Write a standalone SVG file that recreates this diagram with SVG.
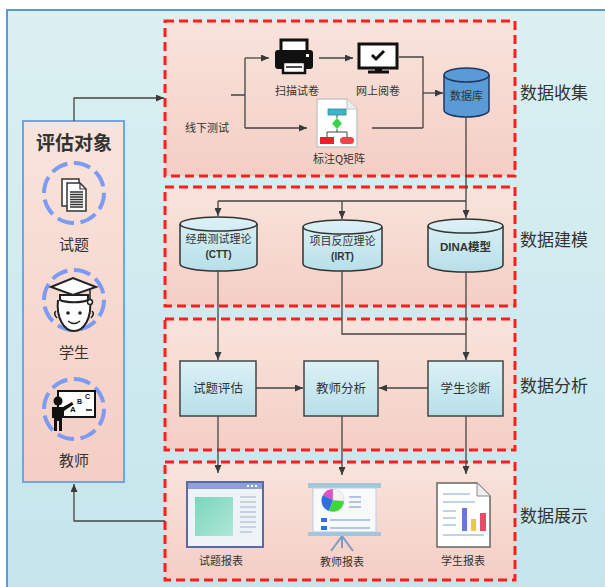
<svg xmlns="http://www.w3.org/2000/svg" width="605" height="587" viewBox="0 0 605 587">
  <defs>
    <linearGradient id="bgGrad" x1="0" y1="0" x2="0" y2="1">
      <stop offset="0" stop-color="#dbf0f2"/>
      <stop offset="1" stop-color="#c4e5ec"/>
    </linearGradient>
    <linearGradient id="pinkGrad" x1="0" y1="0" x2="0" y2="1">
      <stop offset="0" stop-color="#f8e4dc"/>
      <stop offset="1" stop-color="#f4cec4"/>
    </linearGradient>
    <linearGradient id="boxGrad" x1="0" y1="0" x2="0" y2="1">
      <stop offset="0" stop-color="#dcf1f6"/>
      <stop offset="1" stop-color="#b7dfe9"/>
    </linearGradient>
    <linearGradient id="greenGrad" x1="0" y1="0" x2="1" y2="1">
      <stop offset="0" stop-color="#79d6bd"/>
      <stop offset="1" stop-color="#b0e7d6"/>
    </linearGradient>
    <marker id="arrow" viewBox="0 0 8 7" markerWidth="8" markerHeight="7" refX="8" refY="3.5" orient="auto" markerUnits="userSpaceOnUse">
      <path d="M0,0 L8,3.5 L0,7 Z" fill="#3a3a3a"/>
    </marker>
    <style>
      .section { fill: url(#pinkGrad); stroke: #ff1e1e; stroke-width: 3; stroke-dasharray: 9 5; }
      .conn { fill: none; stroke: #444; stroke-width: 1.3; }
      .arr { marker-end: url(#arrow); }
      .cyl { fill: url(#boxGrad); stroke: #333; stroke-width: 1.5; }
      .box { fill: url(#boxGrad); stroke: #444; stroke-width: 1.5; }
      .ring { fill: none; stroke: #7d9bf5; stroke-width: 4; stroke-dasharray: 17 6.5; }
      .t { font-family: "Noto Sans CJK SC", "Liberation Sans", sans-serif; fill: #333; text-anchor: middle; }
      .small { font-size: 11px; }
      .mid { font-size: 12.5px; }
      .sec { font-size: 17px; text-anchor: start; }
      .bold { font-family: "Liberation Sans", "Noto Sans CJK SC", sans-serif; font-weight: bold; }
    </style>
  </defs>

  <!-- canvas and outer frame -->
  <rect x="0" y="0" width="605" height="587" fill="#ffffff"/>
  <rect x="7" y="10" width="610" height="590" fill="url(#bgGrad)" stroke="#5b9bd5" stroke-width="2"/>

  <!-- stage frames -->
  <g id="stage-collect">
    <rect class="section" x="165" y="21" width="350" height="155"/>
    <text class="t sec" x="520" y="99">数据收集</text>
  </g>
  <g id="stage-model">
    <rect class="section" x="165" y="187" width="350" height="119"/>
    <text class="t sec" x="520" y="246">数据建模</text>
  </g>
  <g id="stage-analyse">
    <rect class="section" x="165" y="319" width="350" height="131"/>
    <text class="t sec" x="520" y="392">数据分析</text>
  </g>
  <g id="stage-present">
    <rect class="section" x="165" y="462" width="350" height="118"/>
    <text class="t sec" x="520" y="522">数据展示</text>
  </g>

  <!-- evaluation subjects panel -->
  <g id="subjects">
    <rect x="23" y="121" width="101" height="361" fill="url(#pinkGrad)" stroke="#6aa6ea" stroke-width="2"/>
    <text class="t" x="74" y="150" font-size="19" font-weight="bold" fill="#222">评估对象</text>

    <!-- items: stacked papers -->
    <g id="subject-items">
      <circle class="ring" cx="74" cy="193" r="30"/>
      <rect x="62" y="179" width="17" height="27" fill="#fff" stroke="#333" stroke-width="1.5"/>
      <path d="M67,183 H80 L86,189 V211 H67 Z" fill="#fff" stroke="#333" stroke-width="1.5"/>
      <path d="M80,183 V189 H86" fill="none" stroke="#333" stroke-width="1.2"/>
      <path d="M70,192 H83 M70,194.5 H83 M70,197 H83 M70,199.5 H83 M70,202 H83 M70,204.5 H83 M70,207 H83" stroke="#333" stroke-width="1.3"/>
      <text class="t" x="74" y="250" font-size="15">试题</text>
    </g>

    <!-- students: graduate face -->
    <g id="subject-students">
      <circle class="ring" cx="74" cy="300" r="30"/>
      <path d="M58,300 C56,318 64,331 74,331 C84,331 92,318 90,300" fill="#fff" stroke="#222" stroke-width="2"/>
      <path d="M60,300 C66,303 82,303 88,300 L88,295 L60,295 Z" fill="#fff" stroke="#222" stroke-width="2"/>
      <path d="M51,287 L73,278 L96,287 L73,295 Z" fill="#fff" stroke="#222" stroke-width="2"/>
      <path d="M90,289 V300" stroke="#222" stroke-width="1.5"/>
      <circle cx="90" cy="302" r="2.5" fill="#fff" stroke="#222" stroke-width="1.5"/>
      <circle cx="68" cy="313" r="1.8" fill="#222"/>
      <circle cx="80" cy="313" r="1.8" fill="#222"/>
      <path d="M68,321 Q74,326 80,321" fill="none" stroke="#222" stroke-width="1.6"/>
      <path d="M56,311 Q53,314 57,318 M92,311 Q95,314 91,318" fill="none" stroke="#222" stroke-width="1.5"/>
      <text class="t" x="74" y="358" font-size="15">学生</text>
    </g>

    <!-- teachers: presenter at board -->
    <g id="subject-teachers">
      <circle class="ring" cx="74" cy="409" r="30"/>
      <rect x="58" y="391" width="37" height="26" fill="#fff" stroke="#111" stroke-width="2"/>
      <text x="70" y="412" font-family="Liberation Sans, sans-serif" font-size="8" font-weight="bold" fill="#111">A</text>
      <text x="77" y="404" font-family="Liberation Sans, sans-serif" font-size="7" font-weight="bold" fill="#111">B</text>
      <text x="85" y="399" font-family="Liberation Sans, sans-serif" font-size="7" font-weight="bold" fill="#111">C</text>
      <path d="M86,410 H92" stroke="#111" stroke-width="1.5"/>
      <circle cx="58" cy="401" r="4.5" fill="#111"/>
      <path d="M52,407 H63 L72,402 L73.5,404.5 L64,411 V418 H62 V431 H59 V421 H57 V431 H54 V418 H52 Z" fill="#111"/>
      <text class="t" x="74" y="466" font-size="15">教师</text>
    </g>
  </g>

  <!-- data collection nodes -->
  <g id="node-printer">
    <rect x="281" y="40" width="26" height="12" fill="#fff" stroke="#111" stroke-width="3"/>
    <rect x="275" y="50" width="38" height="19" rx="3" fill="#111"/>
    <rect x="283" y="62" width="22" height="11" fill="#fff" stroke="#111" stroke-width="2.5"/>
    <path d="M286,67 H302" stroke="#111" stroke-width="1.5"/>
    <rect x="306" y="54" width="3" height="3" fill="#fff"/>
    <text class="t small" x="297" y="95">扫描试卷</text>
  </g>
  <g id="node-monitor">
    <rect x="359" y="44" width="38" height="24" fill="#fff" stroke="#111" stroke-width="3"/>
    <path d="M372,55 L376,59 L384,51" fill="none" stroke="#111" stroke-width="3"/>
    <rect x="375" y="68" width="7" height="3" fill="#111"/>
    <rect x="368" y="70.5" width="21" height="3" fill="#111"/>
    <text class="t small" x="378" y="95">网上阅卷</text>
  </g>
  <g id="node-qmatrix">
    <path d="M317,99 H347 L357,109 V147 H317 Z" fill="#fff" stroke="#c8c8c8" stroke-width="1.5"/>
    <path d="M347,99 V109 H357" fill="#eee" stroke="#c8c8c8" stroke-width="1.2"/>
    <path d="M337,114 V118 M337,129 V132 M327,132 H347 M327,132 V137 M347,132 V137" fill="none" stroke="#444" stroke-width="1"/>
    <rect x="328" y="109" width="18" height="6" fill="#3fb4c8" stroke="#2a8aa0" stroke-width="0.8"/>
    <path d="M337,118 L342,123.5 L337,129 L332,123.5 Z" fill="#38d645"/>
    <rect x="320" y="137" width="14" height="7" fill="#e8202a"/>
    <rect x="340" y="137" width="14" height="7" rx="3.5" fill="#ec4448"/>
    <text class="t small" x="339" y="163">标注Q矩阵</text>
  </g>
  <g id="node-offline">
    <text class="t small" x="207" y="132">线下测试</text>
  </g>
  <g id="node-database">
    <path d="M444,75 A22.5,7 0 0 1 489,75 V110 A22.5,7 0 0 1 444,110 Z" fill="#5b9bd5" stroke="#1f3864" stroke-width="1.5"/>
    <path d="M444,75 A22.5,7 0 0 0 489,75" fill="none" stroke="#1f3864" stroke-width="1.5"/>
    <text class="t" x="466.5" y="100" font-size="11" fill="#234a86">数据库</text>
  </g>

  <!-- modelling nodes -->
  <g id="node-ctt">
    <path d="M180,224 A38.5,7 0 0 1 257,224 V264 A38.5,7 0 0 1 180,264 Z" class="cyl"/>
    <path d="M180,224 A38.5,7 0 0 0 257,224" fill="none" stroke="#333" stroke-width="1.5"/>
    <text class="t small" x="218.5" y="243">经典测试理论</text>
    <text class="t bold" x="218.5" y="258" font-size="10">(CTT)</text>
  </g>
  <g id="node-irt">
    <path d="M303,227 A39.5,7 0 0 1 382,227 V264 A39.5,7 0 0 1 303,264 Z" class="cyl"/>
    <path d="M303,227 A39.5,7 0 0 0 382,227" fill="none" stroke="#333" stroke-width="1.5"/>
    <text class="t small" x="342.5" y="245">项目反应理论</text>
    <text class="t bold" x="342.5" y="260" font-size="10">(IRT)</text>
  </g>
  <g id="node-dina">
    <path d="M428,226 A37.5,7 0 0 1 503,226 V265 A37.5,7 0 0 1 428,265 Z" class="cyl"/>
    <path d="M428,226 A37.5,7 0 0 0 503,226" fill="none" stroke="#333" stroke-width="1.5"/>
    <text class="t bold" x="465.5" y="251" font-size="11.5">DINA模型</text>
  </g>

  <!-- analysis nodes -->
  <g id="node-item-eval">
    <rect class="box" x="180" y="361" width="76" height="55"/>
    <text class="t mid" x="218" y="393">试题评估</text>
  </g>
  <g id="node-teacher-analysis">
    <rect class="box" x="304" y="361" width="74" height="55"/>
    <text class="t mid" x="341" y="393">教师分析</text>
  </g>
  <g id="node-student-diag">
    <rect class="box" x="428" y="361" width="75" height="55"/>
    <text class="t mid" x="465.5" y="393">学生诊断</text>
  </g>

  <!-- report nodes -->
  <g id="node-item-report">
    <rect x="187" y="482" width="76" height="65" fill="#eef3f8" stroke="#5a6aa8" stroke-width="2"/>
    <rect x="188" y="483" width="74" height="6" fill="#8f9fd8"/>
    <rect x="247" y="485" width="2" height="2" fill="#fff"/>
    <rect x="251" y="485" width="2" height="2" fill="#fff"/>
    <rect x="255" y="485" width="2" height="2" fill="#fff"/>
    <rect x="195" y="497" width="38" height="39" fill="url(#greenGrad)"/>
    <path d="M240,497 H256 M240,502 H256 M240,507 H256 M240,512 H256 M240,517 H256 M240,522 H256 M240,527 H256 M240,532 H252" stroke="#9fb0c8" stroke-width="1"/>
    <text class="t small" x="221" y="565">试题报表</text>
  </g>
  <g id="node-teacher-report">
    <rect x="308" y="483" width="73" height="5" fill="#a3c6de"/>
    <rect x="313" y="488" width="63" height="44" fill="#f7f9fb" stroke="#b7cfe0" stroke-width="1"/>
    <rect x="308" y="532" width="73" height="4" fill="#a3c6de"/>
    <path d="M342,536 L331,551 M342,536 L353,551 M342,536 V548" stroke="#7d9ac0" stroke-width="2"/>
    <path d="M333,500 L333,489 A11,11 0 0 0 323,495 Z" fill="#e050c0"/>
    <path d="M333,500 L323,495 A11,11 0 0 0 329,511 Z" fill="#2f6fe0"/>
    <path d="M333,500 L329,511 A11,11 0 0 0 344,501 Z" fill="#3ed53a"/>
    <path d="M333,500 L344,501 A11,11 0 0 0 333,489 Z" fill="#f4f4f4" stroke="#ccc" stroke-width="0.5"/>
    <path d="M349,497 H361 M349,502 H361 M349,507 H361" stroke="#6d8fc8" stroke-width="1.2"/>
    <rect x="321" y="518" width="6" height="4" fill="#2f6fe0"/>
    <rect x="321" y="526" width="6" height="4" fill="#2f6fe0"/>
    <path d="M330,520 H370 M330,528 H370" stroke="#6d8fc8" stroke-width="1.2"/>
    <text class="t small" x="342" y="566">教师报表</text>
  </g>
  <g id="node-student-report">
    <path d="M437,483 H477 L490,496 V547 H437 Z" fill="#fff" stroke="#666" stroke-width="1.5"/>
    <path d="M477,483 V496 H490" fill="#eee" stroke="#888" stroke-width="1"/>
    <path d="M443,494 H470 M443,502 H475" stroke="#7ea6dc" stroke-width="1.2"/>
    <path d="M443,511 H456 M443,518 H456 M443,525 H456 M443,535 H484" stroke="#7ea6dc" stroke-width="1.2"/>
    <rect x="462" y="508" width="5" height="23" fill="#6a76d8"/>
    <rect x="471" y="519" width="5" height="12" fill="#efc840"/>
    <rect x="480" y="513" width="6" height="18" fill="#e84a6a"/>
    <text class="t small" x="463" y="565">学生报表</text>
  </g>

  <!-- connectors -->
  <g id="connectors">
    <path class="conn arr" d="M74,121 V98 H164"/>
    <path class="conn arr" d="M165,521 H74 V484"/>
    <path class="conn" d="M231,95 H245 M245,58 V128"/>
    <path class="conn arr" d="M245,58 H269"/>
    <path class="conn arr" d="M245,128 H307"/>
    <path class="conn arr" d="M319,58 H353"/>
    <path class="conn" d="M399,57 H423 V128 M372,128 H423"/>
    <path class="conn arr" d="M423,93 H443"/>
    <path class="conn" d="M466,117 V201 M218,201 H466"/>
    <path class="conn arr" d="M218,201 V216"/>
    <path class="conn arr" d="M342,201 V219"/>
    <path class="conn arr" d="M466,201 V218"/>
    <path class="conn arr" d="M218,271 V360"/>
    <path class="conn" d="M342,271 V334 H466"/>
    <path class="conn arr" d="M466,272 V360"/>
    <path class="conn arr" d="M256,388 H303"/>
    <path class="conn arr" d="M428,388 H379"/>
    <path class="conn arr" d="M218,416 V473"/>
    <path class="conn arr" d="M342,416 V475"/>
    <path class="conn arr" d="M466,416 V474"/>
  </g>
</svg>
